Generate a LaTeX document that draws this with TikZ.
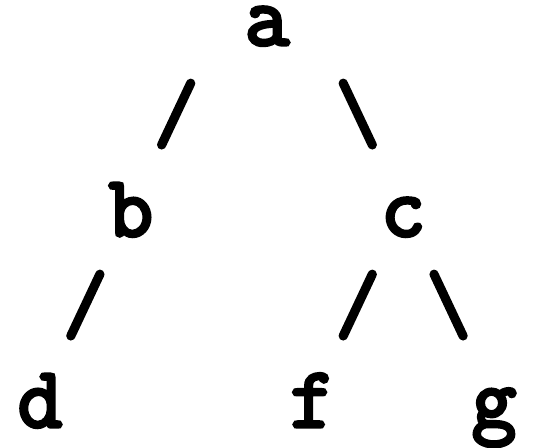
\documentclass[tikz,border=0pt]{standalone}
\usepackage{fontspec}
\newfontfamily\asciifont{Latin Modern Mono}[AutoFakeBold=4]
\tikzset{
  ch/.style={font=\asciifont\bfseries\fontsize{86.5}{86.5}\selectfont, inner sep=0pt, anchor=base, text height=38pt},
}
\begin{document}
\begin{tikzpicture}[x=1pt,y=1pt]
\useasboundingbox (0,0) rectangle (551,447);
% rows (baselines from top): 45, 140.5, 236, 331.5, 427 ; columns: 40 + 45.4*k
\node[ch] (a) at (267,402) {a};
\node[ch] (sab) at (176.2,306.5) {/};
\node[ch] (sac) at (357.8,306.5) {\char`\\};
\node[ch] (b) at (130.8,211) {b};
\node[ch] (c) at (403.2,211) {c};
\node[ch] (sbd) at (85.4,115.5) {/};
\node[ch] (scf) at (357.8,115.5) {/};
\node[ch] (scg) at (448.6,115.5) {\char`\\};
\node[ch] (d) at (40,20) {d};
\node[ch] (f) at (312.4,20) {f};
\node[ch] (g) at (494,20) {g};
\end{tikzpicture}
\end{document}
